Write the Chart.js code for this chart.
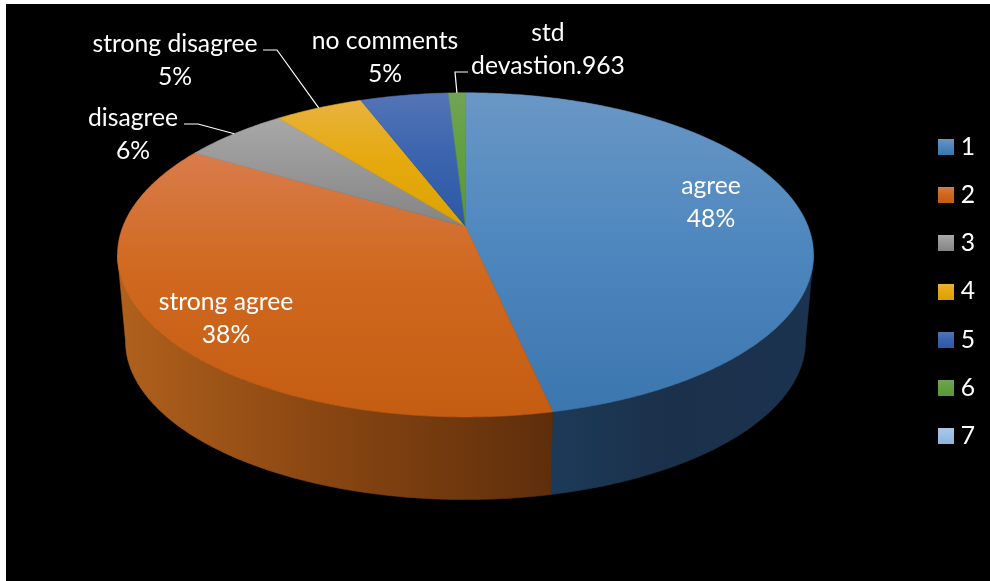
<!DOCTYPE html>
<html>
<head>
<meta charset="utf-8">
<title>Responses</title>
<script src="https://cdn.jsdelivr.net/npm/chart.js@4/dist/chart.umd.min.js"></script>
<style>
    html, body { margin: 0; padding: 0; background: #fff; }
    #panel { position: absolute; left: 6px; top: 4px; width: 984px; height: 577px; background: #000; }
    #pie { position: absolute; left: 0; top: 0; }
</style>
</head>
<body>
<div id="panel"></div>
<canvas id="pie" width="990" height="581"></canvas>
<script>
// Slices, in drawing order from twelve o'clock
const legendLabels = [ '1', '2', '3', '4', '5', '6', '7' ];
const sliceNames = [ 'agree', 'strong agree', 'disagree', 'strong disagree', 'no comments', 'std devastion', '' ];
const sliceValues = [ 48, 38, 6, 5, 5, 0.963, 0 ];

// Slice colours: light top edge, middle, base
const topColors = [
    [ '#6a97c5', '#4f88bf', '#3c76ae' ],
    [ '#d97c4c', '#d0691f', '#c45c12' ],
    [ '#a8a8a8', '#989898', '#848484' ],
    [ '#e8b23f', '#e6aa10', '#dca200' ],
    [ '#5474b6', '#3c65ae', '#2b58a6' ],
    [ '#72a356', '#62a040', '#5a963a' ],
    [ '#a9c8ea', '#9cc0e6', '#8fb2d8' ]
];
// Wall colours run left to right
const wallColors = [
    [ '#1c3a58', '#1b304a', '#1b3350' ],
    [ '#b0611d', '#8b4712', '#5e2e0b' ],
    [ '#4a4a4a', '#4a4a4a', '#4a4a4a' ],
    [ '#6e5200', '#6e5200', '#6e5200' ],
    [ '#162c52', '#162c52', '#162c52' ],
    [ '#2c4a1c', '#2c4a1c', '#2c4a1c' ],
    [ '#4a6078', '#4a6078', '#4a6078' ]
];

// Perspective view of the pie disc
const tilt = 0.175;
const topDisc = { x: 465.5, y: 226.5, rx: 342.6, ry: 157.1 };
const baseDisc = { x: 465.5, y: 313.5, rx: 334.7, ry: 153.5 };

// Only this part of the rim faces the viewer
const frontStart = Math.asin( tilt );
const frontEnd = Math.PI - frontStart;

function project ( disc, angle )
{
    const u = Math.cos( angle );
    const v = Math.sin( angle );
    const w = 1 - tilt * v;
    return { x: disc.x + disc.rx * u / w, y: disc.y + disc.ry * v / w };
}

function arcPoints ( disc, start, end )
{
    const steps = Math.max( 2, Math.ceil( ( end - start ) / 0.01 ) );
    const pts = [];
    for ( let i = 0; i <= steps; i++ )
    {
        pts.push( project( disc, start + ( end - start ) * i / steps ) );
    }
    return pts;
}

function stopsGradient ( ctx, x0, y0, x1, y1, stops )
{
    const g = ctx.createLinearGradient( x0, y0, x1, y1 );
    g.addColorStop( 0, stops[ 0 ] );
    g.addColorStop( 0.45, stops[ 1 ] );
    g.addColorStop( 1, stops[ 2 ] );
    return g;
}

function tracePath ( ctx, pts )
{
    ctx.beginPath();
    pts.forEach( ( p, i ) => i ? ctx.lineTo( p.x, p.y ) : ctx.moveTo( p.x, p.y ) );
    ctx.closePath();
}

function fillShape ( ctx, pts, fill )
{
    tracePath( ctx, pts );
    ctx.fillStyle = fill;
    ctx.strokeStyle = fill;
    ctx.lineWidth = 0.6;
    ctx.fill();
    ctx.stroke();
}

// Side wall of the pie, then the top face, using the angles from the arc elements
const pie3d = {
    id: 'pie3d',
    beforeDatasetsDraw ( chart )
    {
        const ctx = chart.ctx;
        const arcs = chart.getDatasetMeta( 0 ).data;
        ctx.save();

        arcs.forEach( ( arc, i ) =>
        {
            const start = Math.max( arc.startAngle, frontStart );
            const end = Math.min( arc.endAngle, frontEnd );
            if ( end <= start ) return;
            const upper = arcPoints( topDisc, start, end );
            const lower = arcPoints( baseDisc, start, end ).reverse();
            const xs = upper.concat( lower ).map( p => p.x );
            const fill = stopsGradient( ctx, Math.min( ...xs ), 0, Math.max( ...xs ), 0, wallColors[ i ] );
            fillShape( ctx, upper.concat( lower ), fill );
        } );

        arcs.forEach( ( arc, i ) =>
        {
            if ( arc.endAngle - arc.startAngle <= 0 ) return;
            const rim = arcPoints( topDisc, arc.startAngle, arc.endAngle );
            const pts = [ { x: topDisc.x, y: topDisc.y } ].concat( rim );
            const ys = pts.map( p => p.y );
            const fill = stopsGradient( ctx, 0, Math.min( ...ys ), 0, Math.max( ...ys ), topColors[ i ] );
            fillShape( ctx, pts, fill );
        } );

        ctx.restore();
        return false;
    },
    afterDraw ( chart )
    {
        const ctx = chart.ctx;
        const arcs = chart.getDatasetMeta( 0 ).data;
        ctx.save();

        // Leader lines run from the label to the rim at the middle of the slice
        ctx.strokeStyle = '#fff';
        ctx.lineWidth = 1.2;
        leaders.forEach( lead =>
        {
            const arc = arcs[ lead.slice ];
            const end = project( topDisc, ( arc.startAngle + arc.endAngle ) / 2 );
            ctx.beginPath();
            ctx.moveTo( lead.from[ 0 ], lead.from[ 1 ] );
            ctx.lineTo( lead.knee[ 0 ], lead.knee[ 1 ] );
            ctx.lineTo( end.x, end.y );
            ctx.stroke();
        } );

        ctx.fillStyle = '#fff';
        ctx.font = labelFont + 'px Lato';
        ctx.textAlign = 'center';
        ctx.textBaseline = 'middle';
        callouts.forEach( c =>
        {
            ctx.fillText( c.lines[ 0 ], c.x, c.y );
            ctx.fillText( c.lines[ 1 ], c.x, c.y + 33 );
        } );
        ctx.restore();
    }
};

const labelFont = 24.7;

const percent = i => Math.round( sliceValues[ i ] ) + '%';
const callouts = [
    { lines: [ sliceNames[ 0 ], percent( 0 ) ], x: 711, y: 186 },
    { lines: [ sliceNames[ 1 ], percent( 1 ) ], x: 226, y: 302 },
    { lines: [ sliceNames[ 2 ], percent( 2 ) ], x: 133, y: 118 },
    { lines: [ sliceNames[ 3 ], percent( 3 ) ], x: 175, y: 44 },
    { lines: [ sliceNames[ 4 ], percent( 4 ) ], x: 385, y: 41 },
    { lines: [ 'std', 'devastion.963' ], x: 548, y: 33 }
];

const leaders = [
    { slice: 2, from: [ 184, 124 ], knee: [ 198, 124 ] },
    { slice: 3, from: [ 263, 50 ], knee: [ 277, 50 ] },
    { slice: 5, from: [ 468, 72 ], knee: [ 455, 72 ] }
];

// Small gradient squares for the legend
function legendSwatch ( stops )
{
    const swatch = document.createElement( 'canvas' );
    swatch.width = 16;
    swatch.height = 16;
    const sctx = swatch.getContext( '2d' );
    sctx.fillStyle = stopsGradient( sctx, 0, 0, 0, 16, stops );
    sctx.fillRect( 0, 0, 16, 16 );
    return swatch;
}

new Chart( document.getElementById( 'pie' ), {
    type: 'pie',
    data: {
        labels: legendLabels,
        datasets: [ {
            data: sliceValues,
            backgroundColor: topColors.map( c => c[ 1 ] ),
            borderWidth: 0
        } ]
    },
    options: {
        responsive: false,
        animation: false,
        layout: { padding: { right: 5, top: 2 } },
        plugins: {
            tooltip: { enabled: false },
            legend: {
                position: 'right',
                labels: {
                    color: '#fff',
                    font: { family: 'Lato', size: labelFont },
                    usePointStyle: true,
                    pointStyleWidth: 4,
                    padding: 23.6,
                    generateLabels ( chart )
                    {
                        const items = Chart.overrides.doughnut.plugins.legend.labels.generateLabels( chart );
                        return items.map( ( item, i ) => Object.assign( item, { pointStyle: legendSwatch( topColors[ i ] ) } ) );
                    }
                }
            }
        }
    },
    plugins: [ pie3d ]
} );
</script>
</body>
</html>
